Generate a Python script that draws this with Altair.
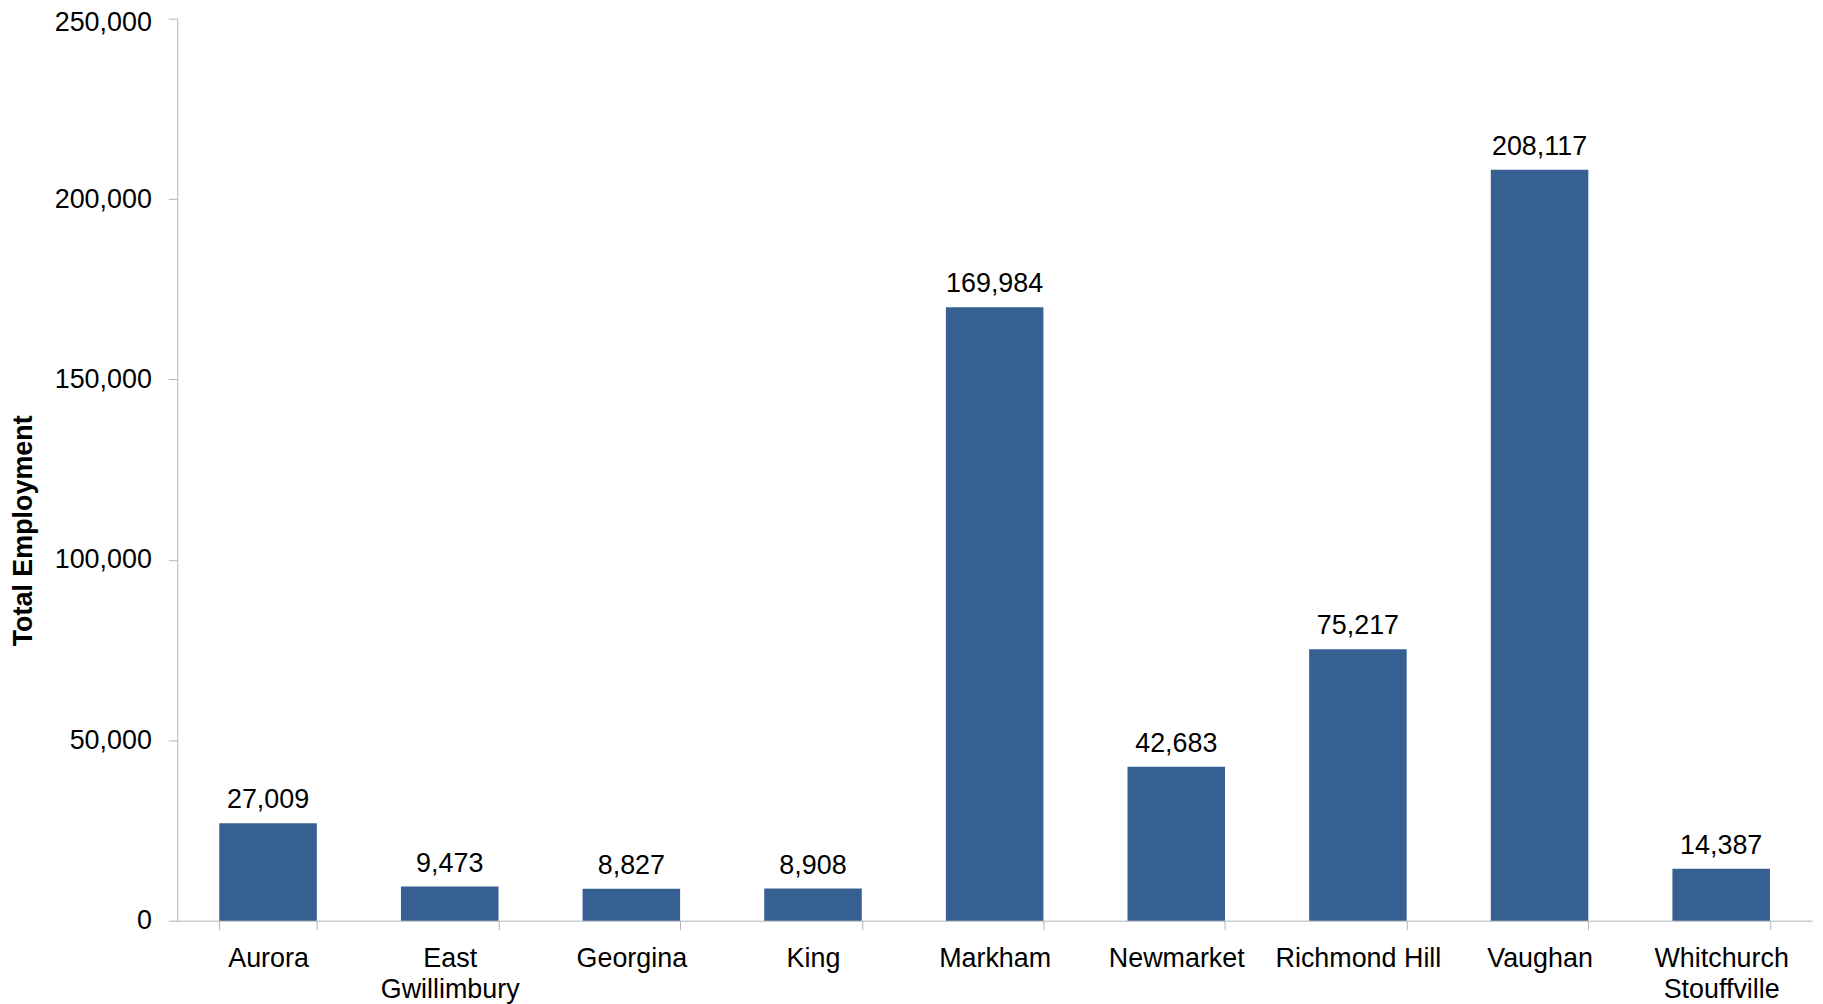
import altair as alt
import pandas as pd

municipalities = ["Aurora", "East Gwillimbury", "Georgina", "King", "Markham",
                  "Newmarket", "Richmond Hill", "Vaughan", "Whitchurch Stouffville"]
employment = [27009, 9473, 8827, 8908, 169984, 42683, 75217, 208117, 14387]
y_ticks = [0, 50000, 100000, 150000, 200000, 250000]

df = pd.DataFrame({"municipality": municipalities, "employment": employment})

FONT = "Liberation Sans"
FS = 27
GREY = "#b3b3b3"

x = alt.X("municipality:N", sort=municipalities, title=None,
          scale=alt.Scale(paddingInner=0.463, paddingOuter=0.2315),
          axis=alt.Axis(labelAngle=0, labelFont=FONT, labelFontSize=FS, labelColor="black",
                        labelExpr="datum.label == 'Richmond Hill' ? datum.label : split(datum.label, ' ')",
                        labelLineHeight=31, labelPadding=16.5, tickBand="extent", tickSize=9,
                        tickColor=GREY, domainColor=GREY, grid=False, labelLimit=400))
y = alt.Y("employment:Q", title="Total Employment",
          scale=alt.Scale(domain=[0, 250000], nice=False),
          axis=alt.Axis(values=y_ticks, format=",d",
                        labelFont=FONT, labelFontSize=FS, labelColor="black",
                        labelOffset={"condition": {"test": "datum.value == 250000", "value": 4}, "value": 0},
                        tickSize=9, labelPadding=17, tickColor=GREY, domainColor=GREY,
                        grid=False, titleFont=FONT, titleFontSize=27, titleFontWeight="bold",
                        titleColor="black", titleAngle=270, titleBaseline="alphabetic",
                        titleAlign="center", titleX=-146.5, titleY=514))

bars = alt.Chart(df).mark_bar(color="#376092").encode(x=x, y=y)
labels = alt.Chart(df).mark_text(font=FONT, fontSize=FS, color="black",
                                 baseline="alphabetic", dy=-15).encode(
    x=alt.X("municipality:N", sort=municipalities),
    y="employment:Q",
    text=alt.Text("employment:Q", format=",d"))

chart = alt.layer(bars, labels).properties(
    width=1642, height=906,
    autosize=alt.AutoSizeParams(type="none"),
    padding={"left": 170, "top": 8.5, "right": 3, "bottom": 81},
).configure_view(stroke=None)

chart.save("out.html", embed_options={"renderer": "svg", "actions": False})
